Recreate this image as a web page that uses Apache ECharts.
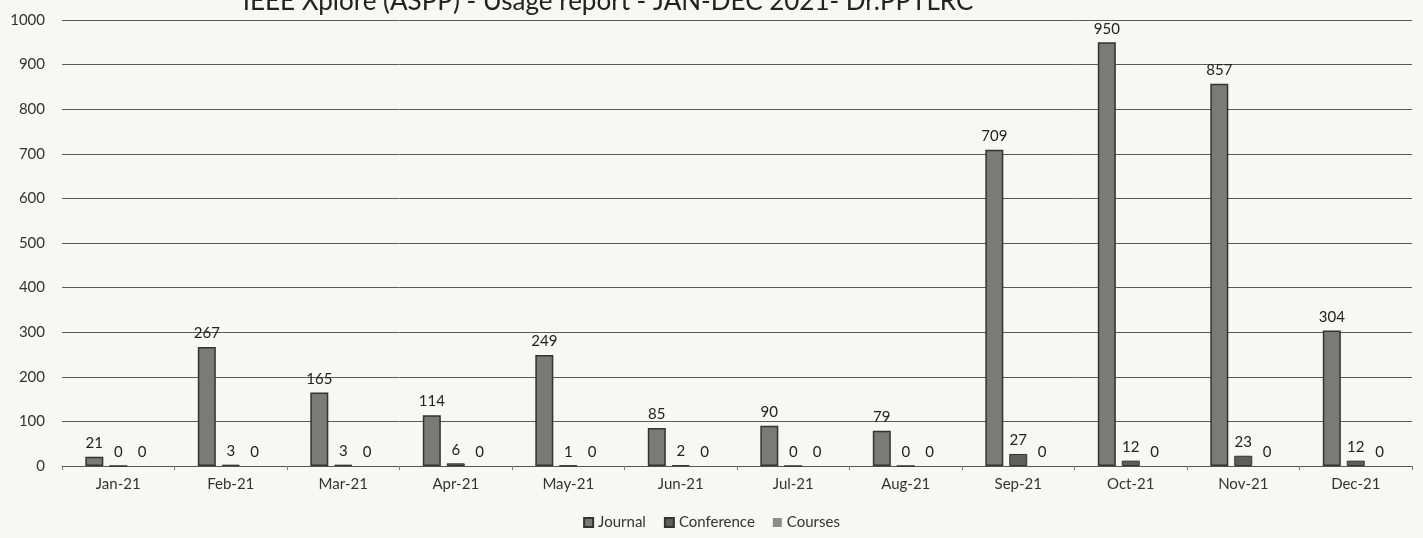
<!DOCTYPE html>
<html><head><meta charset="utf-8">
<script src="https://cdn.jsdelivr.net/npm/echarts@6/dist/echarts.min.js"></script>
<style>html,body{margin:0;padding:0;background:#f7f7f5;}#c{width:1423px;height:538px;}</style>
</head><body><div id="c"></div>
<script>
const categories = ['Jan-21','Feb-21','Mar-21','Apr-21','May-21','Jun-21','Jul-21','Aug-21','Sep-21','Oct-21','Nov-21','Dec-21'];
const journal = [21,267,165,114,249,85,90,79,709,950,857,304];
const conference = [0,3,3,6,1,2,0,0,27,12,23,12];
const courses = [0,0,0,0,0,0,0,0,0,0,0,0];
const titleText = 'IEEE Xplore (ASPP) - Usage report - JAN-DEC 2021- Dr.PPTLRC';

const FONT = 'Lato, "Open Sans", sans-serif';
const lbl = {show:true, position:'top', distance:6, color:'#222', fontSize:15, fontFamily:FONT};
const chart = echarts.init(document.getElementById('c'));
chart.setOption({
  backgroundColor:'#f7f7f5',
  animation:false,
  title:{text:titleText, left:603, textAlign:'center', top:-16, textStyle:{fontSize:26, fontWeight:'normal', color:'#222', fontFamily:FONT}},
  grid:{left:62, right:11, top:20, bottom:72, containLabel:false},
  legend:{bottom:3, left:'center', icon:'rect', itemWidth:9, itemHeight:9, itemGap:18, textStyle:{fontSize:15, color:'#333', fontFamily:FONT},
    data:['Journal','Conference','Courses']},
  xAxis:{type:'category', data:categories,
    axisLine:{lineStyle:{color:'#555', width:1}}, axisTick:{show:true, length:4, lineStyle:{color:'#777'}},
    axisLabel:{fontSize:15, color:'#333', margin:11, fontFamily:FONT}},
  yAxis:{type:'value', min:0, max:1000, interval:100,
    axisLine:{show:false}, axisTick:{show:false},
    axisLabel:{fontSize:15, color:'#333', margin:17, align:'right', fontFamily:FONT, formatter:v => String(v)},
    splitLine:{lineStyle:{color:'#5a5a5a', width:1}}},
  series:[
    {name:'Journal', type:'bar', data:journal, barWidth:18, barGap:'33%',
      itemStyle:{color:'#7a7a76', borderColor:'#333', borderWidth:1.5}, label:lbl},
    {name:'Conference', type:'bar', data:conference, barWidth:18,
      itemStyle:{color:'#5e5e5a', borderColor:'#333', borderWidth:1}, label:lbl},
    {name:'Courses', type:'bar', data:courses, barWidth:18,
      itemStyle:{color:'#8c8c88', borderColor:'#555', borderWidth:0}, label:lbl}
  ]
});
</script></body></html>
